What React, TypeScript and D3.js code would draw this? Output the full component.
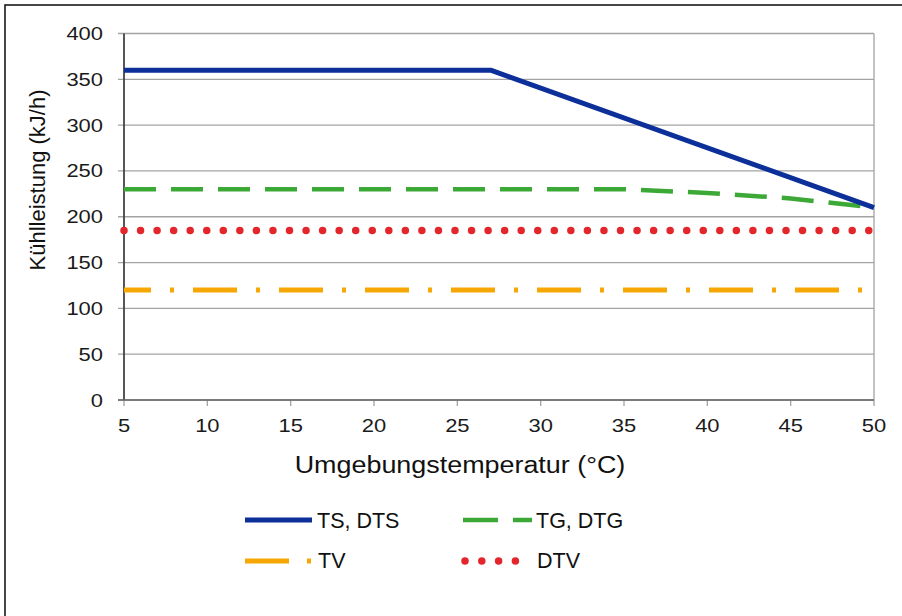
import React from "react";
import * as d3 from "d3";

const xTicks = [5, 10, 15, 20, 25, 30, 35, 40, 45, 50];
const yTicks = [0, 50, 100, 150, 200, 250, 300, 350, 400];

const tsTemps = [5, 27, 50];
const tsValues = [360, 360, 210];
const tgTemps = [5, 10, 15, 20, 25, 30, 35, 40, 45, 50];
const tgValues = [230, 230, 230, 230, 230, 230, 230, 226, 220, 210];
const tvTemps = [5, 50];
const tvValues = [120, 120];
const dtvTemps = [5, 50];
const dtvValues = [185, 185];

const xLabel = "Umgebungstemperatur (°C)";
const yLabel = "Kühlleistung (kJ/h)";
const legendNames = ["TS, DTS", "TG, DTG", "TV", "DTV"];

const FONT = "'Liberation Sans', Arial, sans-serif";
const BLUE = "#0d2f99";
const GREEN = "#3ca936";
const ORANGE = "#f6a704";
const RED = "#e3262b";

export default function App() {
  const x = d3.scaleLinear().domain([5, 50]).range([124, 874]);
  const y = d3.scaleLinear().domain([0, 400]).range([400, 33.5]);
  const line = d3
    .line<[number, number]>()
    .x((d) => x(d[0]))
    .y((d) => y(d[1]));
  const pts = (a: number[], b: number[]) => a.map((t, i) => [t, b[i]] as [number, number]);

  return (
    <svg
      width={902}
      height={616}
      style={{ position: "absolute", left: 0, top: 0, display: "block", background: "#fff" }}
      fontFamily={FONT}
    >
      <rect x={0} y={0} width={902} height={616} fill="#fff" />
      <rect x={5} y={5} width={1000} height={1000} fill="none" stroke="#1a1a1a" strokeWidth={1.6} />

      {/* gridlines */}
      {yTicks.map((t) => (
        <line key={"g" + t} x1={118} x2={874} y1={y(t)} y2={y(t)} stroke="#a3a3a3" strokeWidth={1.3} />
      ))}
      <line x1={874} x2={874} y1={y(400)} y2={y(0)} stroke="#a3a3a3" strokeWidth={1.3} />
      {xTicks.map((t) => (
        <line key={"xt" + t} x1={x(t)} x2={x(t)} y1={y(0)} y2={y(0) + 6} stroke="#a3a3a3" strokeWidth={1.3} />
      ))}
      <line x1={x(5)} x2={x(5)} y1={y(400)} y2={y(0)} stroke="#444" strokeWidth={1.8} />
      <line x1={118} x2={874} y1={y(0)} y2={y(0)} stroke="#666" strokeWidth={1.6} />

      {/* tick labels */}
      {yTicks.map((t) => (
        <text
          key={"yl" + t}
          transform={`translate(103,${y(t) + 6.5}) scale(1.22,1)`}
          textAnchor="end"
          fontSize={18}
          fill="#1a1a1a"
        >
          {t}
        </text>
      ))}
      {xTicks.map((t) => (
        <text
          key={"xl" + t}
          transform={`translate(${x(t)},432) scale(1.22,1)`}
          textAnchor="middle"
          fontSize={18}
          fill="#1a1a1a"
        >
          {t}
        </text>
      ))}

      {/* axis titles */}
      <text transform={`translate(460,473) scale(1.17,1)`} textAnchor="middle" fontSize={23} fill="#111">
        {xLabel}
      </text>
      <text transform={`translate(45,180) rotate(-90)`} textAnchor="middle" fontSize={22} fill="#111">
        {yLabel}
      </text>

      {/* series */}
      <path
        d={line(pts(tvTemps, tvValues)) || ""}
        fill="none"
        stroke={ORANGE}
        strokeWidth={5}
        strokeDasharray="44 19 4 19"
        strokeDashoffset={17}
      />
      <path
        d={line(pts(dtvTemps, dtvValues)) || ""}
        fill="none"
        stroke={RED}
        strokeWidth={7.5}
        strokeLinecap="round"
        strokeDasharray="0 16.55"
      />
      <path
        d={line(pts(tgTemps, tgValues)) || ""}
        fill="none"
        stroke={GREEN}
        strokeWidth={4.5}
        strokeDasharray="32 15"
      />
      <path d={line(pts(tsTemps, tsValues)) || ""} fill="none" stroke={BLUE} strokeWidth={5} strokeLinejoin="round" />

      {/* legend */}
      <line x1={245} x2={312} y1={520} y2={520} stroke={BLUE} strokeWidth={5} />
      <text x={317} y={527.5} fontSize={21.5} fill="#111">{legendNames[0]}</text>

      <line x1={463} x2={498} y1={520} y2={520} stroke={GREEN} strokeWidth={4.5} />
      <line x1={513} x2={532} y1={520} y2={520} stroke={GREEN} strokeWidth={4.5} />
      <text x={536} y={527.5} fontSize={21.5} fill="#111">{legendNames[1]}</text>

      <line x1={245} x2={289} y1={561} y2={561} stroke={ORANGE} strokeWidth={5} />
      <line x1={307} x2={311} y1={561} y2={561} stroke={ORANGE} strokeWidth={5} />
      <text x={318} y={568} fontSize={21.5} fill="#111">{legendNames[2]}</text>

      <line
        x1={465}
        x2={516}
        y1={561}
        y2={561}
        stroke={RED}
        strokeWidth={7.5}
        strokeLinecap="round"
        strokeDasharray="0 16.8"
      />
      <text x={537} y={568} fontSize={21.5} fill="#111">{legendNames[3]}</text>
    </svg>
  );
}
